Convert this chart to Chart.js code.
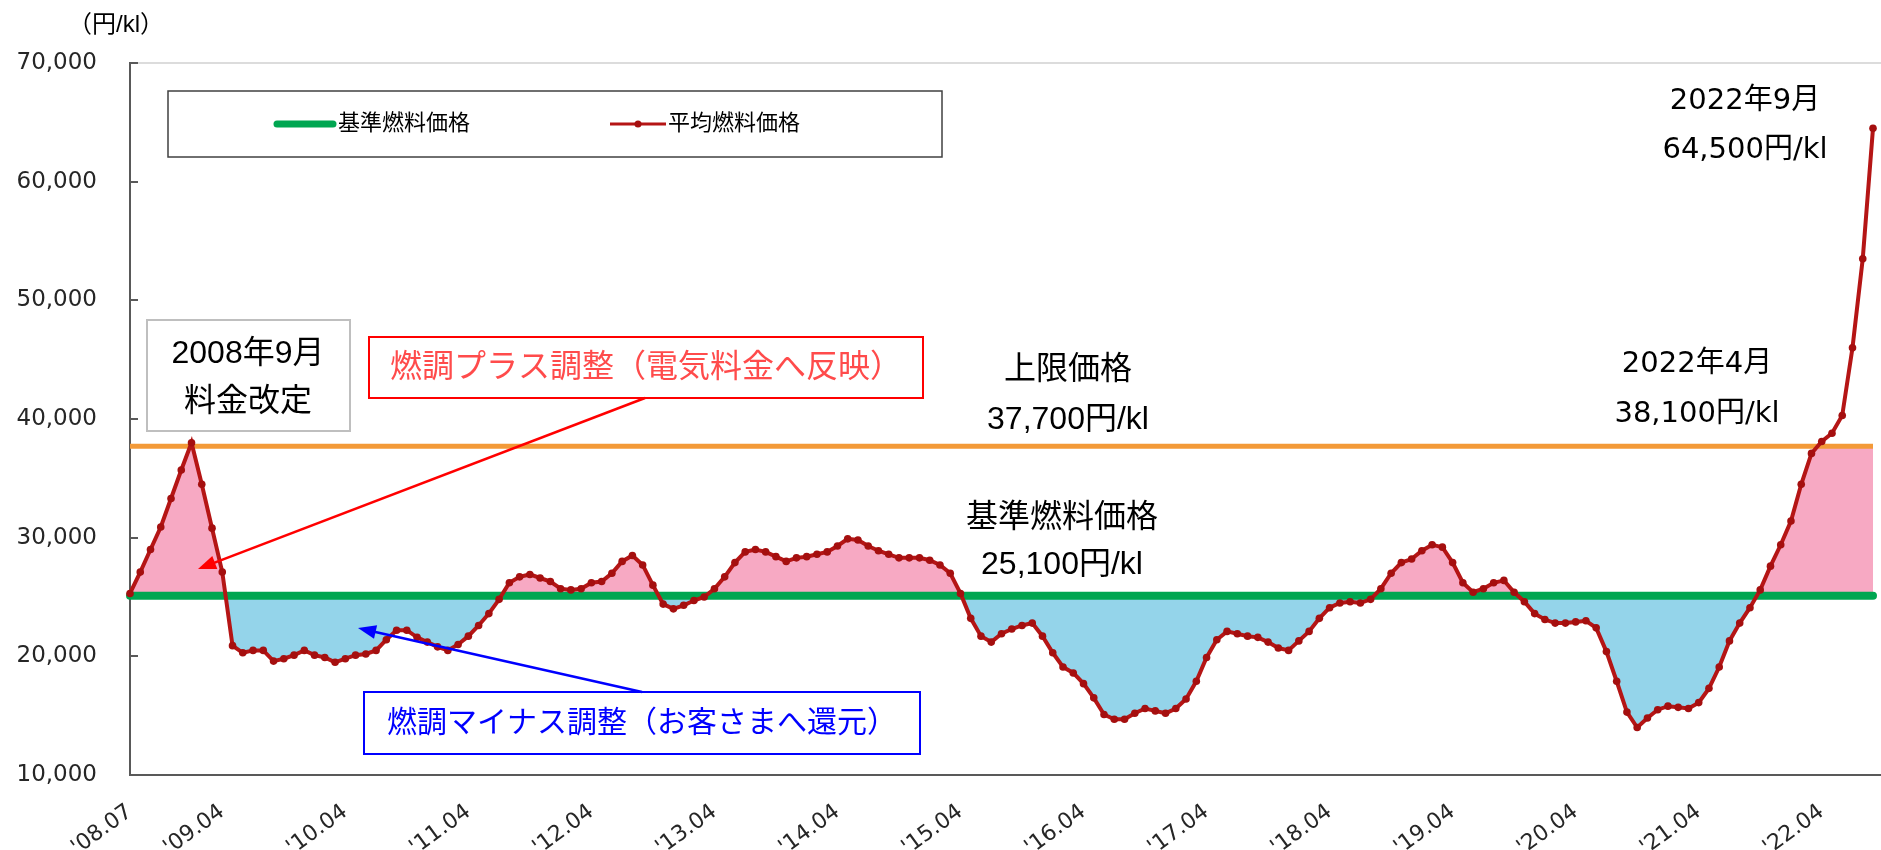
<!DOCTYPE html>
<html lang="ja">
<head>
<meta charset="utf-8">
<title>平均燃料価格の推移</title>
<script src="https://cdn.jsdelivr.net/npm/chart.js@4.4.1/dist/chart.umd.min.js"></script>
<style>
  html, body { margin: 0; padding: 0; background: #fff; }
  #wrap { position: relative; width: 1881px; height: 850px; }
</style>
</head>
<body>
<div id="wrap"><canvas id="fuelChart"></canvas></div>
<script>
// 平均燃料価格 (円/kl) 2008年7月〜2022年9月, 月次
const START_YEAR = 2008;
const START_MONTH = 7;
const avgPrice = [
  25300, 27100, 29000, 30900, 33300, 35700, 38000, 34500, 30800,          // '08.07-'09.03
  27100, 20900, 20300, 20500, 20500, 19600, 19800, 20100, 20500, 20100, 19900, 19500, // '09.04-'10.03
  19800, 20100, 20200, 20500, 21400, 22200, 22200, 21600, 21200, 20800, 20500, 21000, // '10.04-
  21700, 22600, 23600, 24800, 26200, 26700, 26900, 26600, 26300, 25700, 25600, 25700, // '11.04-
  26200, 26300, 27000, 28000, 28500, 27700, 26000, 24400, 24000, 24300, 24700, 25000, // '12.04-
  25700, 26700, 27900, 28800, 29000, 28800, 28400, 28000, 28300, 28400, 28600, 28800, // '13.04-
  29300, 29900, 29800, 29300, 28900, 28600, 28300, 28300, 28300, 28100, 27700, 27000, // '14.04-
  25300, 23200, 21700, 21200, 21900, 22300, 22600, 22800, 21700, 20300, 19100, 18600, // '15.04-
  17700, 16500, 15100, 14700, 14700, 15200, 15600, 15400, 15200, 15600, 16400, 17900, // '16.04-
  19900, 21400, 22100, 21900, 21700, 21600, 21200, 20700, 20500, 21300, 22100, 23200, // '17.04-
  24100, 24500, 24600, 24500, 24800, 25700, 27000, 27900, 28200, 28900, 29400, 29200, // '18.04-
  27900, 26200, 25400, 25700, 26200, 26400, 25400, 24600, 23600, 23100, 22800, 22800, // '19.04-
  22900, 23000, 22400, 20400, 17900, 15300, 14000, 14800, 15500, 15800, 15700, 15600, // '20.04-
  16100, 17300, 19100, 21300, 22800, 24100, 25600, 27600, 29400, 31400, 34500, 37100, // '21.04-
  38100, 38800, 40300, 46000, 53500, 64500                                            // '22.04-'22.09
];
const BASE_PRICE = 25100;   // 基準燃料価格
const UPPER_PRICE = 37700;  // 上限価格
const tickLabels = ["'08.07", "'09.04", "'10.04", "'11.04", "'12.04", "'13.04", "'14.04",
  "'15.04", "'16.04", "'17.04", "'18.04", "'19.04", "'20.04", "'21.04", "'22.04"];

// 月ラベル ('08.07 形式)
const months = avgPrice.map((_, i) => {
  const m = START_MONTH - 1 + i;
  const yy = String((START_YEAR + Math.floor(m / 12)) % 100).padStart(2, '0');
  const mm = String(m % 12 + 1).padStart(2, '0');
  return "'" + yy + '.' + mm;
});

const JP_FONT = "'Liberation Sans', 'Noto Sans CJK JP', sans-serif";
const JP_WIDE = "'DejaVu Sans', 'Noto Sans CJK JP', sans-serif";
const COL_BASE = '#00A651';
const COL_UPPER = '#F39A38';
const COL_AVG = '#B51515';

function drawArrow(ctx, x1, y1, x2, y2, color) {
  const ang = Math.atan2(y2 - y1, x2 - x1);
  const len = 18, half = 7;
  ctx.strokeStyle = color;
  ctx.fillStyle = color;
  ctx.lineWidth = 2.5;
  ctx.beginPath();
  ctx.moveTo(x1, y1);
  ctx.lineTo(x2 - Math.cos(ang) * len * 0.8, y2 - Math.sin(ang) * len * 0.8);
  ctx.stroke();
  ctx.beginPath();
  ctx.moveTo(x2, y2);
  ctx.lineTo(x2 - Math.cos(ang) * len - Math.sin(ang) * half, y2 - Math.sin(ang) * len + Math.cos(ang) * half);
  ctx.lineTo(x2 - Math.cos(ang) * len + Math.sin(ang) * half, y2 - Math.sin(ang) * len - Math.cos(ang) * half);
  ctx.closePath();
  ctx.fill();
}

function text(ctx, str, x, y, size, color, family, align) {
  ctx.font = size + 'px ' + (family || JP_FONT);
  ctx.fillStyle = color || '#000';
  ctx.textAlign = align || 'center';
  ctx.textBaseline = 'middle';
  ctx.fillText(str, x, y);
}

// 注記・凡例・目盛り線
const annotations = {
  id: 'annotations',
  afterDraw(chart) {
    const ctx = chart.ctx;
    const area = chart.chartArea;
    const ys = chart.scales.y;
    ctx.save();

    // 上端の枠線
    ctx.strokeStyle = '#D0D0D0';
    ctx.lineWidth = 1.5;
    ctx.beginPath();
    ctx.moveTo(area.left, area.top);
    ctx.lineTo(chart.width, area.top);
    ctx.stroke();

    // 内向きの目盛り
    ctx.strokeStyle = '#595959';
    ctx.lineWidth = 2;
    for (let v = 20000; v <= 70000; v += 10000) {
      const y = Math.round(ys.getPixelForValue(v));
      ctx.beginPath();
      ctx.moveTo(area.left, y);
      ctx.lineTo(area.left + 8, y);
      ctx.stroke();
    }
    // x軸を右端まで
    ctx.beginPath();
    ctx.moveTo(area.right, area.bottom);
    ctx.lineTo(chart.width, area.bottom);
    ctx.stroke();

    // 単位
    text(ctx, '（円/kl）', 116, 25, 24);

    // 凡例
    ctx.strokeStyle = '#404040';
    ctx.lineWidth = 1.5;
    ctx.strokeRect(168, 91, 774, 66);
    ctx.strokeStyle = COL_BASE;
    ctx.lineWidth = 7;
    ctx.lineCap = 'round';
    ctx.beginPath();
    ctx.moveTo(277, 124);
    ctx.lineTo(333, 124);
    ctx.stroke();
    ctx.lineCap = 'butt';
    text(ctx, '基準燃料価格', 338, 124, 22, '#000', JP_FONT, 'left');
    ctx.strokeStyle = COL_AVG;
    ctx.lineWidth = 3;
    ctx.beginPath();
    ctx.moveTo(610, 124);
    ctx.lineTo(666, 124);
    ctx.stroke();
    ctx.fillStyle = '#A50F0F';
    ctx.beginPath();
    ctx.arc(638, 124, 3.5, 0, Math.PI * 2);
    ctx.fill();
    text(ctx, '平均燃料価格', 668, 124, 22, '#000', JP_FONT, 'left');

    // 2008年9月 料金改定
    ctx.strokeStyle = '#BFBFBF';
    ctx.lineWidth = 2;
    ctx.strokeRect(147, 320, 203, 111);
    text(ctx, '2008年9月', 248, 354, 32);
    text(ctx, '料金改定', 248, 402, 32);

    // 燃調プラス調整
    ctx.strokeStyle = '#FF0000';
    ctx.lineWidth = 2;
    ctx.strokeRect(369, 337, 554, 61);
    text(ctx, '燃調プラス調整（電気料金へ反映）', 646, 368, 32, '#FF4B4B');
    drawArrow(ctx, 645, 398, 198, 569, '#FF0000');

    // 燃調マイナス調整
    ctx.strokeStyle = '#0000FF';
    ctx.lineWidth = 2;
    ctx.strokeRect(364, 692, 556, 62);
    text(ctx, '燃調マイナス調整（お客さまへ還元）', 642, 724, 30, '#0000FF');
    drawArrow(ctx, 642, 692, 358, 628, '#0000FF');

    // 上限価格・基準燃料価格
    text(ctx, '上限価格', 1068, 370, 32);
    text(ctx, '37,700円/kl', 1068, 420, 32);
    text(ctx, '基準燃料価格', 1062, 518, 32);
    text(ctx, '25,100円/kl', 1062, 565, 32);

    // 2022年
    text(ctx, '2022年4月', 1697, 364, 29, '#000', JP_WIDE);
    text(ctx, '38,100円/kl', 1697, 414, 29, '#000', JP_WIDE);
    text(ctx, '2022年9月', 1745, 101, 29, '#000', JP_WIDE);
    text(ctx, '64,500円/kl', 1745, 150, 29, '#000', JP_WIDE);

    ctx.restore();
  }
};

new Chart(document.getElementById('fuelChart'), {
  type: 'line',
  data: {
    labels: months,
    datasets: [
      {
        label: '平均燃料価格',
        data: avgPrice,
        borderColor: COL_AVG,
        borderWidth: 4,
        pointRadius: 3.8,
        pointBackgroundColor: '#A50F0F',
        pointBorderWidth: 0,
        tension: 0,
        fill: false,
        order: 0
      },
      {
        label: '基準燃料価格',
        data: avgPrice.map(() => BASE_PRICE),
        borderColor: COL_BASE,
        borderWidth: 8,
        borderCapStyle: 'round',
        pointRadius: 0,
        fill: false,
        order: 1
      },
      {
        label: '上限価格',
        data: avgPrice.map(() => UPPER_PRICE),
        borderColor: COL_UPPER,
        borderWidth: 5,
        pointRadius: 0,
        fill: false,
        order: 2
      },
      {
        label: '調整範囲',
        data: avgPrice.map(v => Math.min(v, UPPER_PRICE)),
        borderWidth: 0,
        borderColor: 'rgba(0,0,0,0)',
        pointRadius: 0,
        fill: { target: { value: BASE_PRICE }, above: '#F7A9C3', below: '#94D4EA' },
        order: 3
      }
    ]
  },
  options: {
    responsive: true,
    maintainAspectRatio: false,
    animation: false,
    layout: { padding: { top: 63, right: 8, bottom: 0, left: 0 } },
    plugins: {
      legend: { display: false },
      tooltip: { enabled: false }
    },
    scales: {
      x: {
        type: 'category',
        offset: false,
        grid: { display: false, drawTicks: false },
        border: { color: '#595959', width: 2 },
        ticks: {
          autoSkip: false,
          minRotation: 36,
          maxRotation: 36,
          padding: 24,
          color: '#262626',
          font: { family: 'DejaVu Sans', size: 22 },
          callback: function (val) {
            const l = this.getLabelForValue(val);
            return tickLabels.includes(l) ? l : '';
          }
        },
        afterFit: s => { s.height = 75; s.paddingLeft = 0; s.paddingRight = 0; }
      },
      y: {
        min: 10000,
        max: 70000,
        grid: { display: false, drawTicks: false },
        border: { color: '#595959', width: 2 },
        ticks: {
          stepSize: 10000,
          padding: 33,
          color: '#262626',
          font: { family: 'DejaVu Sans', size: 23 },
          callback: v => v.toLocaleString('en-US')
        },
        afterFit: s => { s.width = 130; }
      }
    }
  },
  plugins: [annotations]
});
</script>
</body>
</html>
